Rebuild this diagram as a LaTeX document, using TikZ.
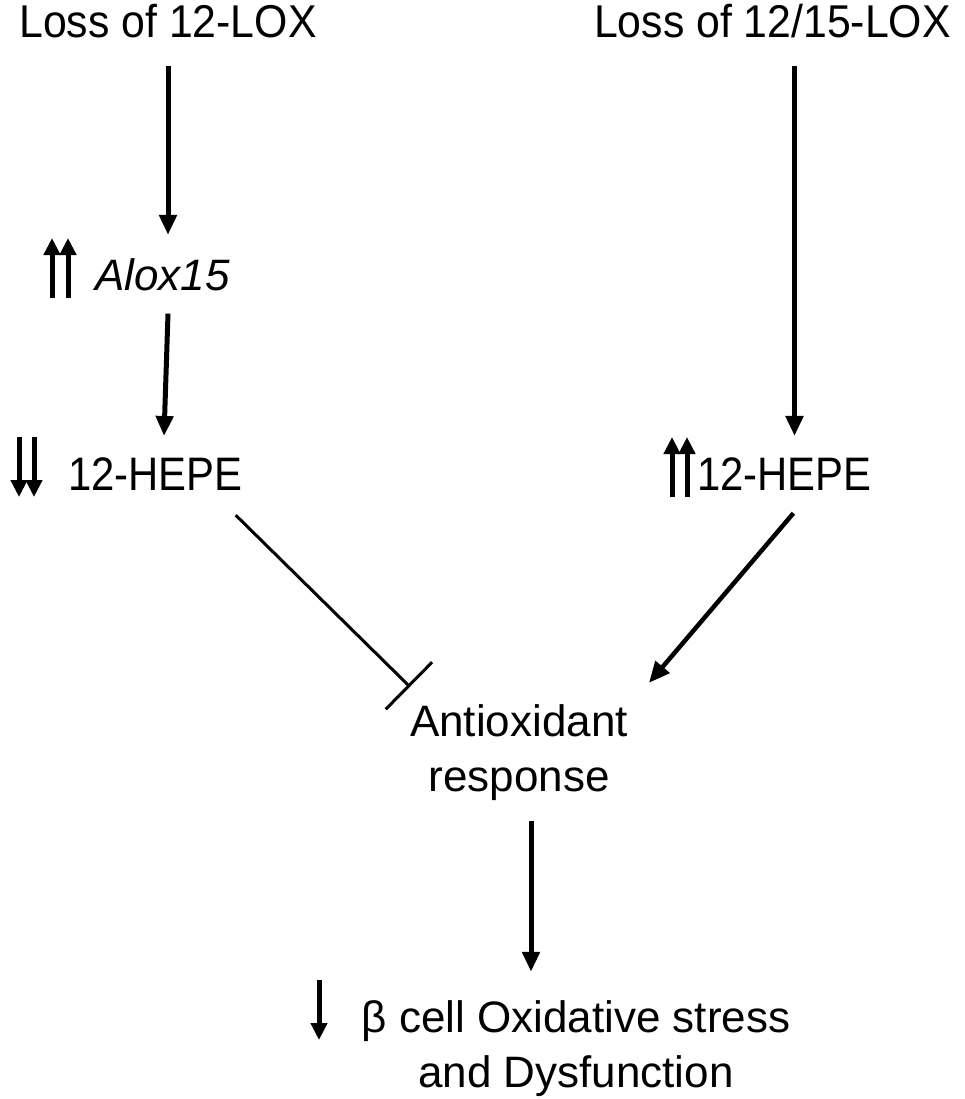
\documentclass[tikz,border=0pt]{standalone}
\usepackage{fontspec}
\setmainfont{Liberation Sans}
\newfontfamily\condA[FakeStretch=0.93]{Liberation Sans}
\newfontfamily\condB[FakeStretch=0.89]{Liberation Sans}
\usetikzlibrary{arrows.meta}
\begin{document}
\begin{tikzpicture}[x=1pt,y=1pt,
  lbl/.style={inner sep=0pt, font=\fontsize{44}{55}\selectfont},
  toplbl/.style={inner sep=0pt, font=\condA\fontsize{46}{55}\selectfont},
  hepe/.style={inner sep=0pt, font=\condB\fontsize{47}{55}\selectfont},
  arr/.style={line width=5pt, -{Triangle[length=20pt,width=17pt]}},
  act/.style={line width=4.5pt, -{Triangle[length=21pt,width=18pt]}},
  inh/.style={line width=3pt, -{Bar[width=66pt]}},
  updn/.style={line width=5pt, -{Triangle[length=17pt,width=16pt]}}]
\useasboundingbox[fill=white] (0,0) rectangle (965,-1099);

% labels
\node[toplbl, anchor=base] (l1) at (168,-38) {Loss of 12-LOX};
\node[toplbl, anchor=base] (l2) at (772.5,-38) {Loss of 12/15-LOX};
\node[lbl, anchor=base west] (alox) at (95,-290) {\itshape Alox15};
\node[hepe, anchor=base west] (hL) at (68,-490) {12-HEPE};
\node[hepe, anchor=base west] (hR) at (697,-490) {12-HEPE};
\node[lbl, align=center] (anti) at (519,-753) {Antioxidant\\response};
\node[lbl, align=center] (bet) at (576,-1049) {β cell Oxidative stress\\and Dysfunction};

% up/down indicator arrows
\draw[updn] (52,-298) -- (52,-238);
\draw[updn] (68,-298) -- (68,-238);
\draw[updn] (19,-437) -- (19,-497);
\draw[updn] (34,-437) -- (34,-497);
\draw[updn] (672,-497) -- (672,-437);
\draw[updn] (687,-497) -- (687,-437);
\draw[updn] (319,-980) -- (319,-1040);

% connectors
\draw[arr] ([yshift=-27pt]l1.south) -- ([yshift=23pt]l1.south |- alox.north);
\draw[arr] ([yshift=-23pt]l1.south |- alox.south) -- ([xshift=-4pt,yshift=21pt]l1.south |- hL.north);
\draw[arr] ([xshift=22pt,yshift=-27pt]l2.south) -- ([xshift=22pt,yshift=21pt]l2.south |- hR.north);
\draw[inh] ([xshift=-7pt,yshift=-25pt]hL.south east) -- ([yshift=18pt]anti.north west);
\draw[act] ([xshift=9pt,yshift=-23pt]hR.south) -- ([xshift=21pt,yshift=22pt]anti.north east);
\draw[arr] ([xshift=12pt,yshift=-20pt]anti.south) -- ([xshift=12pt,yshift=29pt]anti.south |- bet.north);
\end{tikzpicture}
\end{document}
